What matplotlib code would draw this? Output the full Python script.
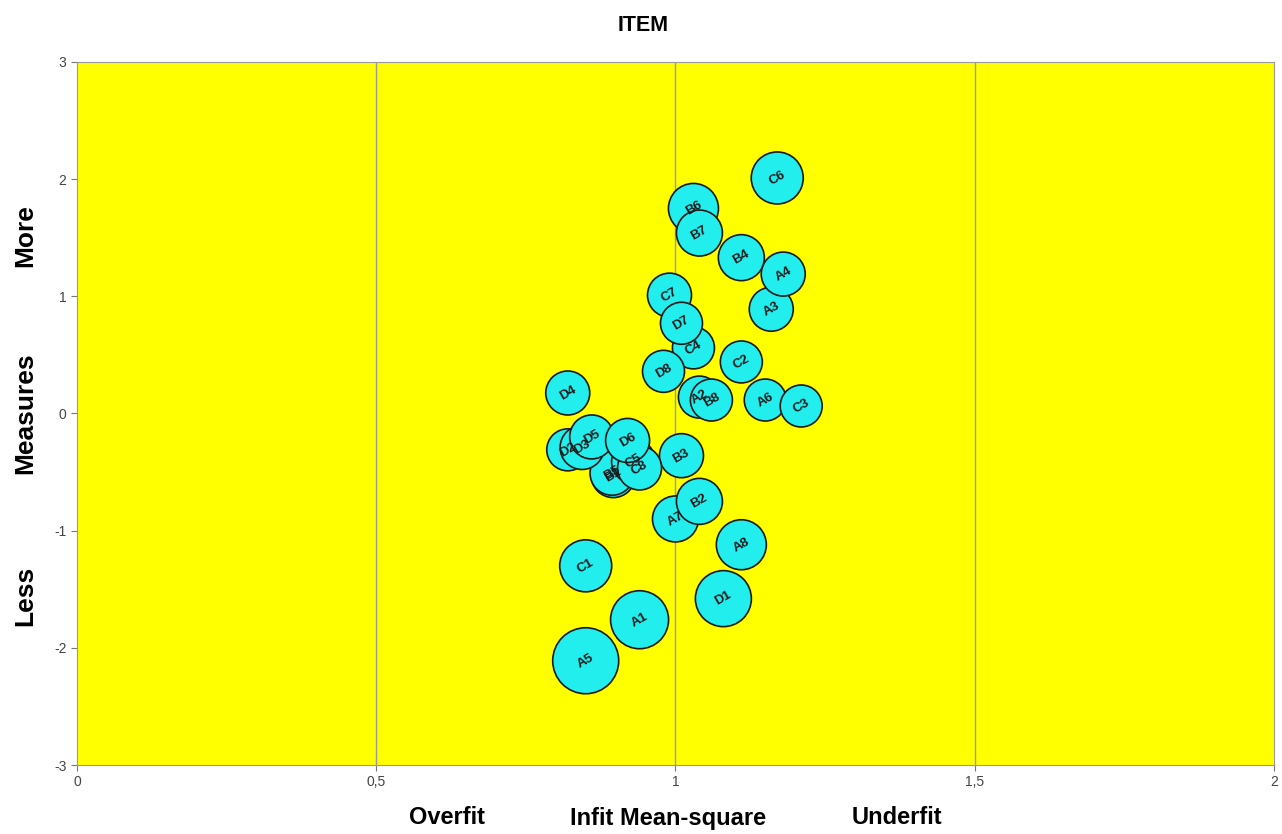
import matplotlib
matplotlib.use("Agg")
from matplotlib import pyplot as plt
from matplotlib.ticker import FuncFormatter

plt.rcParams['font.family'] = ['Liberation Sans', 'DejaVu Sans']
plt.rcParams['axes.unicode_minus'] = False

items = ['A1', 'A2', 'A3', 'A4', 'A5', 'A6', 'A7', 'A8',
         'B1', 'B2', 'B3', 'B4', 'B5', 'B6', 'B7', 'B8',
         'C1', 'C2', 'C3', 'C4', 'C5', 'C6', 'C7', 'C8',
         'D1', 'D2', 'D3', 'D4', 'D5', 'D6', 'D7', 'D8']
infit = [0.94, 1.04, 1.16, 1.18, 0.85, 1.15, 1.00, 1.11,
         0.896, 1.04, 1.01, 1.11, 0.894, 1.03, 1.04, 1.06,
         0.85, 1.11, 1.21, 1.03, 0.93, 1.17, 0.99, 0.94,
         1.08, 0.82, 0.844, 0.82, 0.86, 0.92, 1.01, 0.98]
measure = [-1.76, 0.14, 0.89, 1.19, -2.11, 0.115, -0.90, -1.12,
           -0.53, -0.75, -0.36, 1.33, -0.51, 1.75, 1.54, 0.115,
           -1.30, 0.44, 0.064, 0.56, -0.41, 2.01, 1.01, -0.465,
           -1.58, -0.31, -0.29, 0.175, -0.20, -0.23, 0.77, 0.36]
error = [0.29, 0.21, 0.22, 0.22, 0.33, 0.21, 0.23, 0.25,
         0.22, 0.23, 0.22, 0.23, 0.22, 0.25, 0.23, 0.21,
         0.26, 0.21, 0.21, 0.21, 0.22, 0.26, 0.22, 0.22,
         0.28, 0.21, 0.22, 0.22, 0.22, 0.22, 0.21, 0.21]

fig = plt.figure(figsize=(12.82, 8.34), dpi=100)
ax = fig.add_axes([0.060, 0.0827, 0.9338, 0.843])
ax.set_facecolor('#FFFF00')

for xv in [0.5, 1.0, 1.5]:
    ax.axvline(xv, color='#999999', lw=1, zorder=1)

# bubble radius in pixels = error * 100
sizes = [(2 * e * 100 * 0.72) ** 2 for e in error]
ax.scatter(infit, measure, s=sizes, color='#22EEEE', edgecolor='#1a1a1a',
           linewidth=1.2, zorder=3)
for name, xv, yv in zip(items, infit, measure):
    ax.text(xv, yv, name, ha='center', va='center', rotation=30,
            fontsize=9.5, fontweight='bold', color='#1a1a1a', zorder=4)

ax.set_xlim(0, 2)
ax.set_ylim(-3, 3)
ax.set_xticks([0, 0.5, 1, 1.5, 2])
ax.set_yticks(range(-3, 4))
ax.xaxis.set_major_formatter(FuncFormatter(lambda v, p: ('%g' % v).replace('.', ',')))
ax.yaxis.set_major_formatter(FuncFormatter(lambda v, p: '%d' % v))
ax.tick_params(labelsize=10, colors='#777777', length=4, labelcolor='#444444')
for sp in ax.spines.values():
    sp.set_color('#999999')

fig.text(0.5016, 0.970, 'ITEM', ha='center', va='center', fontsize=15.5, fontweight='bold')
for txt, ypix in [('More', 236), ('Measures', 413), ('Less', 596)]:
    fig.text(25 / 1282, 1 - ypix / 834, txt, rotation=90, ha='center', va='center',
             fontsize=19, fontweight='bold')
for txt, xpix in [('Overfit', 447), ('Infit Mean-square', 668), ('Underfit', 897)]:
    fig.text(xpix / 1282, 1 - 818 / 834, txt, ha='center', va='center',
             fontsize=17, fontweight='bold')

fig.savefig('out.png', dpi=100)
